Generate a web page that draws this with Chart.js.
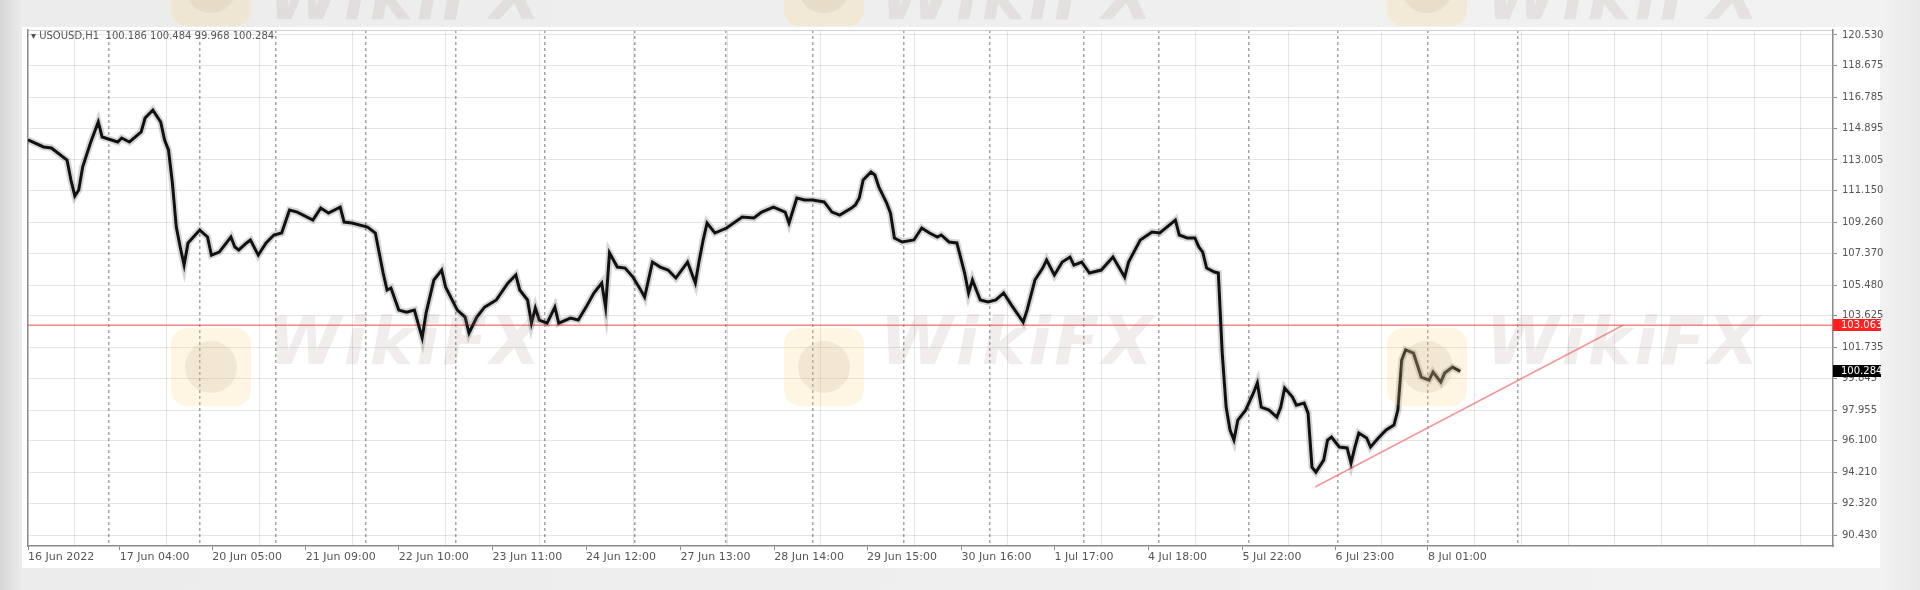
<!DOCTYPE html>
<html><head><meta charset="utf-8">
<script src="https://cdn.jsdelivr.net/npm/chart.js@4.4.0/dist/chart.umd.min.js"></script>
<style>
html,body{margin:0;padding:0;width:1920px;height:590px;overflow:hidden;background:#ececec;}
#bg{position:absolute;left:0;top:0;width:1920px;height:590px;background:linear-gradient(90deg,#d6d6d6 0px,#ececec 22px,#f2f2f2 1880px,#e9e9e9 1920px);}
#win{position:absolute;left:22px;top:27px;width:1858px;height:541px;background:#fff;}
#c{position:absolute;left:0;top:0;}
#title{position:absolute;left:31px;top:30px;font:10px "DejaVu Sans";color:#555;white-space:pre;}
.logo{position:absolute;width:80px;height:78px;border-radius:16px;background:rgba(250,210,110,0.2);}
.logo:after{content:"";position:absolute;left:14px;top:13px;width:52px;height:52px;border-radius:50%;background:rgba(190,170,150,0.2);}
.wm{position:absolute;font:italic bold 66px "DejaVu Sans";color:rgba(150,130,120,0.14);letter-spacing:3px;white-space:nowrap;}
</style></head>
<body>
<div id="bg"></div>
<div id="win"></div>
<canvas id="c" width="1920" height="590"></canvas>
<div id="title">▾ USOUSD,H1  100.186 100.484 99.968 100.284</div>
<div class="logo" style="left:171px;top:328px"></div>
<div class="logo" style="left:784px;top:328px"></div>
<div class="logo" style="left:1387px;top:328px"></div>
<div class="logo" style="left:171px;top:-52px"></div>
<div class="logo" style="left:784px;top:-52px"></div>
<div class="logo" style="left:1387px;top:-52px"></div>
<div class="wm" style="left:268px;top:303px">WikiFX</div>
<div class="wm" style="left:880px;top:303px">WikiFX</div>
<div class="wm" style="left:1486px;top:303px">WikiFX</div>
<div class="wm" style="left:268px;top:-42px">WikiFX</div>
<div class="wm" style="left:880px;top:-42px">WikiFX</div>
<div class="wm" style="left:1486px;top:-42px">WikiFX</div>
<script>
// ---- data (H1 bars, index = bar number from 16 Jun 2022) ----
const barIndex = [0,4,6,10,11,12,13,14,16,18,19,23,24,26,29,30,32,34,35,36,37,38,39,40,41,44,46,47,49,52,53,54,56,57,59,61,63,65,67,69,73,75,77,80,81,83,87,89,90,91,92,93,95,97,99,101,102,104,106,107,110,112,113,115,117,120,123,125,126,128,129,130,131,133,135,136,139,141,143,145,147,148,149,151,153,155,157,158,160,162,164,166,169,171,172,173,174,176,179,183,186,188,191,194,195,197,199,201,204,206,208,211,212,213,214,216,217,218,220,221,222,224,227,229,231,233,234,236,238,240,241,242,244,246,248,250,252,255,256,258,260,261,263,265,267,268,270,272,275,278,281,282,285,288,290,294,295,297,299,300,301,302,304,305,306,307,308,309,310,312,314,315,316,318,320,321,322,324,325,327,328,329,330,332,333,334,336,338,339,340,341,343,344,346,348,350,351,352,353,355,356,357,359,360,362,363,365,367];
const closePrice = [114.21,113.79,113.73,113.00,111.80,110.84,111.20,112.58,114.03,115.29,114.39,114.09,114.33,114.09,114.69,115.53,116.01,115.29,114.21,113.61,111.62,108.97,107.77,106.68,108.01,108.79,108.37,107.28,107.46,108.37,107.77,107.59,108.01,108.19,107.28,108.01,108.49,108.61,109.99,109.87,109.39,110.11,109.81,110.17,109.27,109.21,108.97,108.61,107.41,106.20,105.18,105.30,103.97,103.85,103.97,102.30,103.79,105.78,106.38,105.36,103.97,103.55,102.59,103.55,104.15,104.58,105.60,106.08,105.18,104.58,103.19,104.09,103.37,103.19,104.15,103.19,103.49,103.37,104.15,105.00,105.60,104.15,107.41,106.56,106.50,105.96,105.18,104.76,106.86,106.56,106.38,105.90,106.86,105.60,106.98,108.19,109.21,108.61,108.91,109.57,109.51,109.87,110.17,109.87,109.21,110.72,110.60,110.60,110.48,109.87,109.69,110.11,110.30,110.72,111.80,112.28,112.10,111.38,110.42,109.81,108.31,108.07,108.19,108.91,108.61,108.37,108.49,108.07,108.01,106.20,105.00,105.78,104.58,104.46,104.58,105.00,104.27,103.25,103.97,105.78,106.50,106.98,106.08,106.86,107.16,106.68,106.86,106.20,106.38,107.16,105.96,106.86,108.19,108.67,108.61,109.39,108.49,108.31,108.31,107.77,107.46,106.50,106.26,106.20,101.38,98.13,96.75,96.15,97.35,97.95,98.98,99.58,98.13,97.95,97.53,98.13,99.28,98.74,98.25,98.37,97.77,94.52,94.22,94.94,96.15,96.33,95.73,95.67,94.76,95.73,96.57,96.27,95.73,96.27,96.75,97.05,97.95,100.96,101.57,101.38,100.66,99.94,99.76,100.24,99.64,100.18,100.54,100.284];

const yTickValues = [120.530,118.675,116.785,114.895,113.005,111.150,109.260,107.370,105.480,103.625,101.735,99.845,97.955,96.100,94.210,92.320,90.430];
const xTickLabels = ["16 Jun 2022","17 Jun 04:00","20 Jun 05:00","21 Jun 09:00","22 Jun 10:00","23 Jun 11:00","24 Jun 12:00","27 Jun 13:00","28 Jun 14:00","29 Jun 15:00","30 Jun 16:00","1 Jul 17:00","4 Jul 18:00","5 Jul 22:00","6 Jul 23:00","8 Jul 01:00"];
const xTickBars = [0,23.5,47.2,71.2,95,119,143,167.2,191.2,215,239.2,263,287,311.2,335,358.7];
const daySeparatorBars = [20.7,43.9,63.6,86.5,109.5,132.5,155.5,178.7,201.2,224.4,246.4,270.4,289.8,312.7,335.7,358.7,381.7];
const gridBars = [11.8,35.4,59.2,83.1,107,131,155.1,179.2,203.1,227.1,251.1,275,299.1,323.1,346.9,370.7,382.6,394.6,406.5,418.5,430.4,442.4,454.3];

const levelPrice = 103.063;      // horizontal red level
const lastClose = 100.284;
const trendBars = [329.8, 408.7];
const trendPrices = [93.32, 103.06];

const X_MIN = 0, X_MAX = 462.5, Y_MIN = 89.77, Y_MAX = 120.83;

const priceData = barIndex.map((b,i)=>({x:b,y:closePrice[i]}));
const levelData = [{x:X_MIN,y:levelPrice},{x:X_MAX,y:levelPrice}];
const trendData = trendBars.map((b,i)=>({x:b,y:trendPrices[i]}));

const zeroH = s => { s.height = 0; };
const zeroW = s => { s.width = 0; };

const priceTags = {
  id:'priceTags',
  afterDraw(chart){
    const {ctx, chartArea} = chart; const ys = chart.scales.y;
    [[levelPrice,'#ff2020'],[lastClose,'#000000']].forEach(([v,col])=>{
      const py = Math.round(ys.getPixelForValue(v));
      ctx.save();
      ctx.fillStyle = col;
      ctx.fillRect(chartArea.right, py-6, 48, 12);
      ctx.fillStyle = '#ffffff';
      ctx.font = '10px "DejaVu Sans"';
      ctx.textBaseline = 'middle';
      ctx.fillText(v.toFixed(3), chartArea.right+8, py);
      ctx.restore();
    });
  }
};

new Chart(document.getElementById('c'), {
  type:'line',
  data:{datasets:[
    {data:priceData, borderColor:'#111', borderWidth:3, pointRadius:0, tension:0, order:0},
    {data:priceData, borderColor:'rgba(0,0,0,0.16)', borderWidth:7, pointRadius:0, tension:0, order:1},
    {data:levelData, borderColor:'rgba(242,95,95,0.75)', borderWidth:1.5, pointRadius:0, order:2},
    {data:trendData, borderColor:'rgba(242,115,115,0.75)', borderWidth:1.5, pointRadius:0, order:3}
  ]},
  options:{
    responsive:false, animation:false, devicePixelRatio:1,
    layout:{padding:{left:28,top:30,right:0,bottom:0}},
    plugins:{legend:{display:false}, tooltip:{enabled:false}},
    scales:{
      x:{type:'linear', position:'bottom', min:X_MIN, max:X_MAX,
        afterBuildTicks:s=>{s.ticks = xTickBars.map(v=>({value:v}));},
        afterFit:s=>{s.height = 44;},
        ticks:{autoSkip:false, maxRotation:0, align:'start', padding:1, color:'#555',
          font:{family:'DejaVu Sans', size:11}, callback:(v,i)=>xTickLabels[i]},
        grid:{drawOnChartArea:false, drawTicks:true, tickLength:4, color:'#888'},
        border:{display:true, color:'#8a8a8a', width:1.5}},
      xg:{type:'linear', position:'bottom', min:X_MIN, max:X_MAX,
        afterBuildTicks:s=>{s.ticks = gridBars.map(v=>({value:v}));}, afterFit:zeroH,
        ticks:{display:false}, grid:{color:'rgba(0,0,0,0.10)', drawTicks:false}, border:{display:false}},
      xs:{type:'linear', position:'bottom', min:X_MIN, max:X_MAX,
        afterBuildTicks:s=>{s.ticks = daySeparatorBars.map(v=>({value:v}));}, afterFit:zeroH,
        ticks:{display:false}, grid:{color:'rgba(90,90,90,0.55)', drawTicks:false, lineWidth:1.5},
        border:{display:false, dash:[3,3]}},
      xt:{type:'linear', position:'top', min:X_MIN, max:X_MAX, afterFit:zeroH,
        ticks:{display:false}, grid:{display:false}, border:{display:true, color:'#d0d0d0'}},
      yl:{type:'linear', position:'left', min:Y_MIN, max:Y_MAX, afterFit:zeroW,
        ticks:{display:false}, grid:{display:false}, border:{display:true, color:'#8a8a8a', width:1.5}},
      y:{type:'linear', position:'right', min:Y_MIN, max:Y_MAX,
        afterBuildTicks:s=>{s.ticks = yTickValues.map(v=>({value:v}));},
        afterFit:s=>{s.width = 87;},
        ticks:{autoSkip:false, padding:5, color:'#555', font:{family:'DejaVu Sans', size:10},
          callback:v=>v.toFixed(3)},
        grid:{color:'rgba(0,0,0,0.10)', drawTicks:true, tickLength:4, tickColor:'#888'},
        border:{display:true, color:'#8a8a8a', width:1.5}}
    }
  },
  plugins:[priceTags]
});
</script>
</body></html>
